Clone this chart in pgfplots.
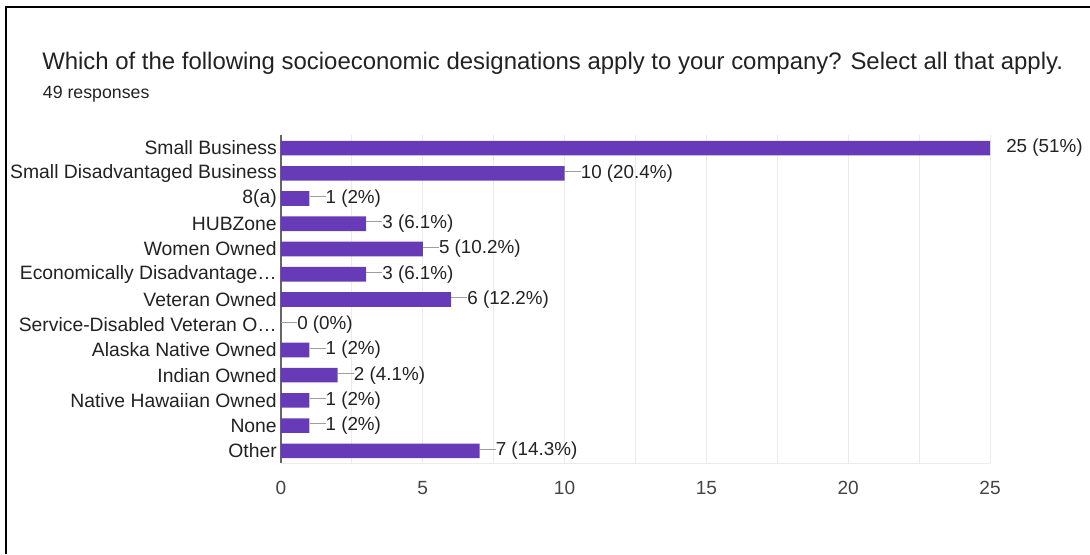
\documentclass[border=0pt]{standalone}
\usepackage{pgfplots}
\pgfplotsset{compat=1.18}
\usepackage{fontspec}
\setmainfont{Liberation Sans}
\definecolor{barc}{HTML}{673AB7}
\definecolor{txt}{HTML}{222222}
\definecolor{tnum}{HTML}{444444}
\definecolor{gridc}{HTML}{EBEBEB}
\definecolor{ldrc}{HTML}{9E9E9E}
\newcommand\ldr{{\color{ldrc}\rule[0.33em]{12pt}{0.75pt}}}
\begin{document}
\begin{tikzpicture}
\path[use as bounding box] (0,0) rectangle (817.5pt,-415.5pt);
\draw[black,line width=1.5pt] (4.6pt,-415.5pt) -- (4.6pt,-5.3pt) -- (817.5pt,-5.3pt);
\node[anchor=base west, font=\fontsize{17.95}{21}\selectfont, text=txt, inner sep=0pt] at (31.5pt,-51.75pt) {Which of the following socioeconomic designations apply to your company? Select all that apply.};
\node[anchor=base west, font=\fontsize{13.3}{15}\selectfont, text=txt, inner sep=0pt] at (32pt,-73.5pt) {49 responses};
\begin{axis}[
  at={(210.75pt,-347.6pt)}, anchor=south west, scale only axis,
  width=531.75pt, height=246pt,
  xbar, bar width=0.58,
  xmin=0, xmax=25, ymin=-0.5, ymax=12.5,
  ytick={0,...,12},
  yticklabels={Other, None, Native Hawaiian Owned, Indian Owned, Alaska Native Owned, Service-Disabled Veteran O…, Veteran Owned, Economically Disadvantage…, Women Owned, HUBZone, 8(a), Small Disadvantaged Business, Small Business},
  xtick={0,5,...,25},
  minor xtick={2.5,7.5,...,22.5},
  xmajorgrids, xminorgrids,
  major grid style={gridc, line width=0.75pt},
  minor grid style={gridc, line width=0.75pt},
  axis x line*=bottom, axis y line*=left,
  x axis line style={gridc, line width=1pt, -},
  y axis line style={black!60, line width=1pt, -},
  major tick length=0pt, minor tick length=0pt,
  yticklabel style={font=\fontsize{14.5}{17}\selectfont, text=txt, inner sep=0pt, xshift=-3pt},
  xticklabel style={font=\fontsize{14.3}{17}\selectfont, text=tnum, inner sep=0pt, yshift=-13pt},
  /pgf/number format/assume math mode=true,
  nodes near coords, point meta=explicit symbolic,
  nodes near coords style={anchor=west, inner sep=0pt, font=\fontsize{14.1}{17}\selectfont, text=txt},
  clip=false,
]
\addplot[fill=barc, draw=none] coordinates {
  (25,12) [\hspace{12pt}25 (51\%)]
  (10,11) [\ldr10 (20.4\%)]
  (1,10)  [\ldr1 (2\%)]
  (3,9)   [\ldr3 (6.1\%)]
  (5,8)   [\ldr5 (10.2\%)]
  (3,7)   [\ldr3 (6.1\%)]
  (6,6)   [\ldr6 (12.2\%)]
  (0,5)   [\ldr0 (0\%)]
  (1,4)   [\ldr1 (2\%)]
  (2,3)   [\ldr2 (4.1\%)]
  (1,2)   [\ldr1 (2\%)]
  (1,1)   [\ldr1 (2\%)]
  (7,0)   [\ldr7 (14.3\%)]
};
\end{axis}
\end{tikzpicture}
\end{document}
